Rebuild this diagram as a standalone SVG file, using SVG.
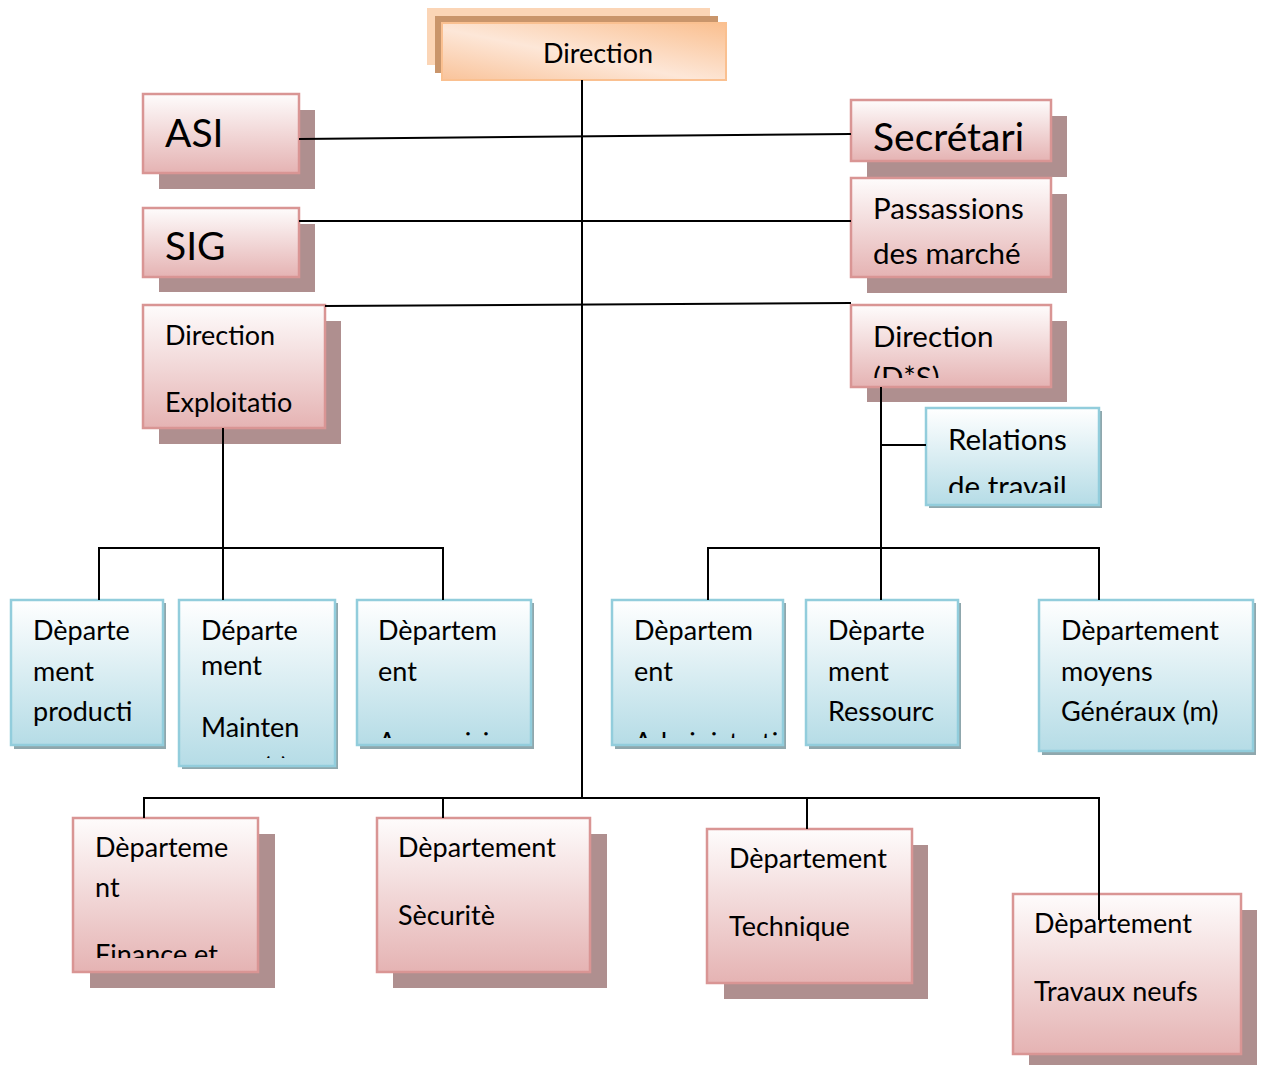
<svg xmlns="http://www.w3.org/2000/svg" width="1262" height="1066" viewBox="0 0 1262 1066">
<defs>
<linearGradient id="gp" x1="0" y1="0" x2="0" y2="1"><stop offset="0" stop-color="#fefcfc"/><stop offset="1" stop-color="#e5b3b3"/></linearGradient>
<linearGradient id="gb" x1="0" y1="0" x2="0" y2="1"><stop offset="0" stop-color="#ffffff"/><stop offset="1" stop-color="#b5dce6"/></linearGradient>
<linearGradient id="go" x1="0" y1="1" x2="1" y2="0"><stop offset="0" stop-color="#f9c39a"/><stop offset="0.45" stop-color="#fde7d8"/><stop offset="1" stop-color="#fabf8f"/></linearGradient>
<clipPath id="cDS"><rect x="851" y="305" width="200" height="73"/></clipPath>
<clipPath id="cRel"><rect x="926" y="408" width="173" height="85"/></clipPath>
<clipPath id="cB2"><rect x="179" y="600" width="156" height="158"/></clipPath>
<clipPath id="cB3"><rect x="357" y="600" width="168" height="138"/></clipPath>
<clipPath id="cB4"><rect x="612" y="600" width="165" height="138"/></clipPath>
<clipPath id="cFin"><rect x="73" y="818" width="185" height="140"/></clipPath>
</defs>
<style>
text{font-family:Lato,"Open Sans","Liberation Sans",sans-serif;fill:#000}
.t{font-size:27px}
.m{font-size:29.5px}
.b{font-size:39px}
.pk{fill:url(#gp);stroke:#d99594;stroke-width:2.5}
.ps{fill:#af8f8f}
.bl{fill:url(#gb);stroke:#92cddc;stroke-width:2.5}
.bs{fill:#8fa7ad}
.ln{fill:none;stroke:#000;stroke-width:2}
</style>
<rect width="1262" height="1066" fill="#fff"/>

<g id="n-direction">
<rect x="427" y="8" width="283" height="57" fill="#fbd5b6"/>
<rect x="435" y="16" width="283" height="57" fill="#c9956b"/>
<rect x="442" y="23" width="284" height="57" fill="url(#go)" stroke="#fac090" stroke-width="2"/>
<text class="t" x="598" y="63" text-anchor="middle">Direction</text>
</g>

<g id="n-asi">
<rect class="ps" x="159" y="110" width="156" height="79"/>
<rect class="pk" x="143" y="94" width="156" height="79"/>
<text class="b" x="165" y="147">ASI</text>
</g>
<g id="n-sig">
<rect class="ps" x="159" y="224" width="156" height="68"/>
<rect class="pk" x="143" y="208" width="156" height="69"/>
<text class="b" x="165" y="260">SIG</text>
</g>
<g id="n-secretari">
<rect class="ps" x="867" y="116" width="200" height="61"/>
<rect class="pk" x="851" y="100" width="200" height="61"/>
<text class="b" x="873" y="151">Secrétari</text>
</g>
<g id="n-passassions">
<rect class="ps" x="867" y="194" width="200" height="99"/>
<rect class="pk" x="851" y="178" width="200" height="99"/>
<text class="m" x="873" y="219">Passassions</text>
<text class="m" x="873" y="264">des marché</text>
</g>
<g id="n-exploitation">
<rect class="ps" x="159" y="321" width="182" height="123"/>
<rect class="pk" x="143" y="305" width="182" height="123"/>
<text class="t" x="165" y="345">Direction</text>
<text class="t" x="165" y="412">Exploitatio</text>
</g>
<g id="n-ds">
<rect class="ps" x="867" y="321" width="200" height="81"/>
<rect class="pk" x="851" y="305" width="200" height="82"/>
<g clip-path="url(#cDS)">
<text class="m" x="873" y="347">Direction</text>
<text class="m" x="873" y="388">(D*S)</text>
</g>
</g>
<g id="n-relations">
<rect class="bs" x="929" y="411" width="173" height="97"/>
<rect class="bl" x="926" y="408" width="173" height="97"/>
<g clip-path="url(#cRel)">
<text class="m" x="948" y="450">Relations</text>
<text class="m" x="948" y="497">de travail</text>
</g>
</g>

<g id="n-production">
<rect class="bs" x="14" y="603" width="152" height="146"/>
<rect class="bl" x="11" y="600" width="152" height="145"/>
<text class="t" x="33" y="640">Dèparte</text>
<text class="t" x="33" y="681">ment</text>
<text class="t" x="33" y="721">producti</text>
</g>
<g id="n-maintenance">
<rect class="bs" x="182" y="603" width="156" height="166"/>
<rect class="bl" x="179" y="600" width="156" height="166"/>
<g clip-path="url(#cB2)">
<text class="t" x="201" y="640">Départe</text>
<text class="t" x="201" y="675">ment</text>
<text class="t" x="201" y="737">Mainten</text>
<text class="t" x="201" y="777">ance (s)</text>
</g>
</g>
<g id="n-approvisionnement">
<rect class="bs" x="360" y="603" width="174" height="146"/>
<rect class="bl" x="357" y="600" width="174" height="145"/>
<g clip-path="url(#cB3)">
<text class="t" x="378" y="640">Dèpartem</text>
<text class="t" x="378" y="681">ent</text>
<text class="t" x="378" y="752">Approvisionnement</text>
</g>
</g>
<g id="n-administration">
<rect class="bs" x="615" y="603" width="171" height="146"/>
<rect class="bl" x="612" y="600" width="171" height="145"/>
<g clip-path="url(#cB4)">
<text class="t" x="634" y="640">Dèpartem</text>
<text class="t" x="634" y="681">ent</text>
<text class="t" x="634" y="752">Administration</text>
</g>
</g>
<g id="n-ressources">
<rect class="bs" x="809" y="603" width="152" height="146"/>
<rect class="bl" x="806" y="600" width="152" height="145"/>
<text class="t" x="828" y="640">Dèparte</text>
<text class="t" x="828" y="681">ment</text>
<text class="t" x="828" y="721">Ressourc</text>
</g>
<g id="n-moyens">
<rect class="bs" x="1042" y="603" width="214" height="152"/>
<rect class="bl" x="1039" y="600" width="214" height="151"/>
<text class="t" x="1061" y="640">Dèpartement</text>
<text class="t" x="1061" y="681">moyens</text>
<text class="t" x="1061" y="721">Généraux (m)</text>
</g>

<g id="n-finance">
<rect class="ps" x="90" y="834" width="185" height="154"/>
<rect class="pk" x="73" y="818" width="185" height="154"/>
<g clip-path="url(#cFin)">
<text class="t" x="95" y="857">Dèparteme</text>
<text class="t" x="95" y="897">nt</text>
<text class="t" x="95" y="964">Finance et</text>
</g>
</g>
<g id="n-securite">
<rect class="ps" x="393" y="834" width="214" height="154"/>
<rect class="pk" x="377" y="818" width="213" height="154"/>
<text class="t" x="398" y="857">Dèpartement</text>
<text class="t" x="398" y="925">Sècuritè</text>
</g>
<g id="n-technique">
<rect class="ps" x="724" y="845" width="204" height="154"/>
<rect class="pk" x="707" y="829" width="205" height="154"/>
<text class="t" x="729" y="868">Dèpartement</text>
<text class="t" x="729" y="936">Technique</text>
</g>
<g id="n-travaux">
<rect class="ps" x="1029" y="910" width="228" height="155"/>
<rect class="pk" x="1013" y="894" width="228" height="160"/>
<text class="t" x="1034" y="933">Dèpartement</text>
<text class="t" x="1034" y="1001">Travaux neufs</text>
</g>

<g id="connectors" class="ln">
<line x1="582" y1="80" x2="582" y2="798"/>
<line x1="299" y1="139" x2="851" y2="134"/>
<line x1="299" y1="221" x2="851" y2="221"/>
<line x1="325" y1="306" x2="851" y2="303"/>
<polyline points="223,428 223,600"/>
<polyline points="99,600 99,548 443,548 443,600"/>
<polyline points="881,387 881,600"/>
<line x1="881" y1="445" x2="926" y2="445"/>
<polyline points="708,600 708,548 1099,548 1099,600"/>
<polyline points="144,818 144,798 1099,798 1099,920"/>
<line x1="443" y1="798" x2="443" y2="818"/>
<line x1="807" y1="798" x2="807" y2="829"/>
</g>
</svg>
